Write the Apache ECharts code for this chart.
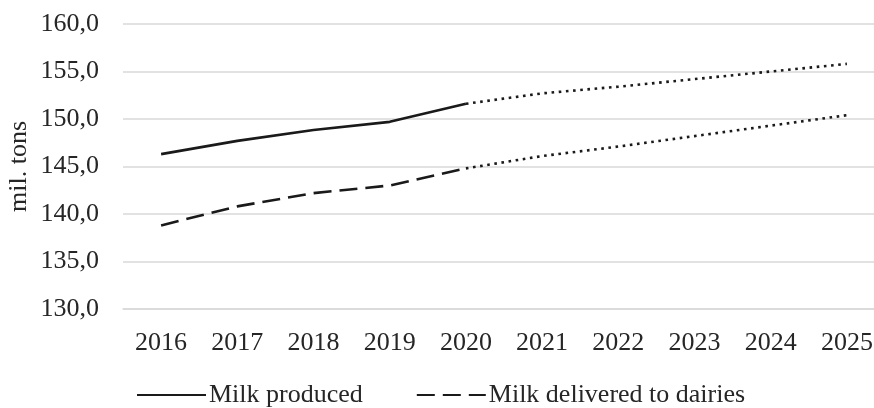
<!DOCTYPE html>
<html>
<head>
<meta charset="utf-8">
<script src="https://cdn.jsdelivr.net/npm/echarts@6/dist/echarts.min.js"></script>
<style>html,body{margin:0;padding:0;background:#fff}#c{width:874px;height:408px}</style>
</head>
<body>
<div id="c"></div>
<script>
var years = ['2016','2017','2018','2019','2020','2021','2022','2023','2024','2025'];
var milkProduced = [146.3, 147.7, 148.85, 149.7, 151.6, 152.7, 153.4, 154.2, 155.0, 155.8];
var milkDelivered = [138.8, 140.8, 142.2, 143.0, 144.8, 146.1, 147.1, 148.2, 149.3, 150.4];
var lastActualIndex = 4; // 2020: actual data up to here, forecast afterwards
var yTicks = {min: 130, max: 160, interval: 5};

function actualPart(arr) { return arr.map(function (v, i) { return i <= lastActualIndex ? v : null; }); }
function forecastPart(arr) { return arr.map(function (v, i) { return i >= lastActualIndex ? v : null; }); }

var font = 'Liberation Serif, Times New Roman, serif';
var textColor = '#262626';
var lineColor = '#1a1a1a';

var chart = echarts.init(document.getElementById('c'));
chart.setOption({
  animation: false,
  grid: {left: 123, right: -11, top: 24, bottom: 99, containLabel: false, outerBoundsMode: 'none'},
  legend: {
    data: ['Milk produced', 'Milk delivered to dairies'],
    left: 136, top: 382, padding: 0,
    itemWidth: 69, itemHeight: 14, itemGap: 53,
    itemStyle: {opacity: 0},
    textStyle: {fontFamily: font, fontSize: 26, color: textColor, padding: [0,0,0,-2]}
  },
  xAxis: {
    type: 'category', data: years, boundaryGap: true,
    axisLine: {show: true, lineStyle: {color: '#d9d9d9', width: 1.5}},
    axisTick: {show: false},
    axisLabel: {fontFamily: font, fontSize: 26, color: textColor, margin: 21}
  },
  yAxis: {
    type: 'value', min: yTicks.min, max: yTicks.max, interval: yTicks.interval,
    name: 'mil. tons', nameLocation: 'middle', nameGap: 91, nameRotate: 90,
    nameMoveOverlap: false,
    nameTextStyle: {fontFamily: font, fontSize: 26, color: textColor},
    axisLine: {show: false}, axisTick: {show: false},
    splitLine: {lineStyle: {color: '#d9d9d9', width: 1.5}},
    axisLabel: {fontFamily: font, fontSize: 26, color: textColor, margin: 24,
      formatter: function (v) { return v.toFixed(1).replace('.', ','); }}
  },
  series: [
    {name: 'Milk produced', type: 'line', data: actualPart(milkProduced), symbol: 'none',
      lineStyle: {color: lineColor, width: 2.6, type: 'solid'}, itemStyle: {color: lineColor}},
    {name: 'Milk delivered to dairies', type: 'line', data: actualPart(milkDelivered), symbol: 'none',
      lineStyle: {color: lineColor, width: 2.6, type: [18, 8]}, itemStyle: {color: lineColor}},
    {name: 'Milk produced forecast', type: 'line', data: forecastPart(milkProduced), symbol: 'none',
      lineStyle: {color: lineColor, width: 2.6, type: [2.6, 4.6]}},
    {name: 'Milk delivered forecast', type: 'line', data: forecastPart(milkDelivered), symbol: 'none',
      lineStyle: {color: lineColor, width: 2.6, type: [2.6, 4.6]}}
  ]
});
</script>
</body>
</html>
